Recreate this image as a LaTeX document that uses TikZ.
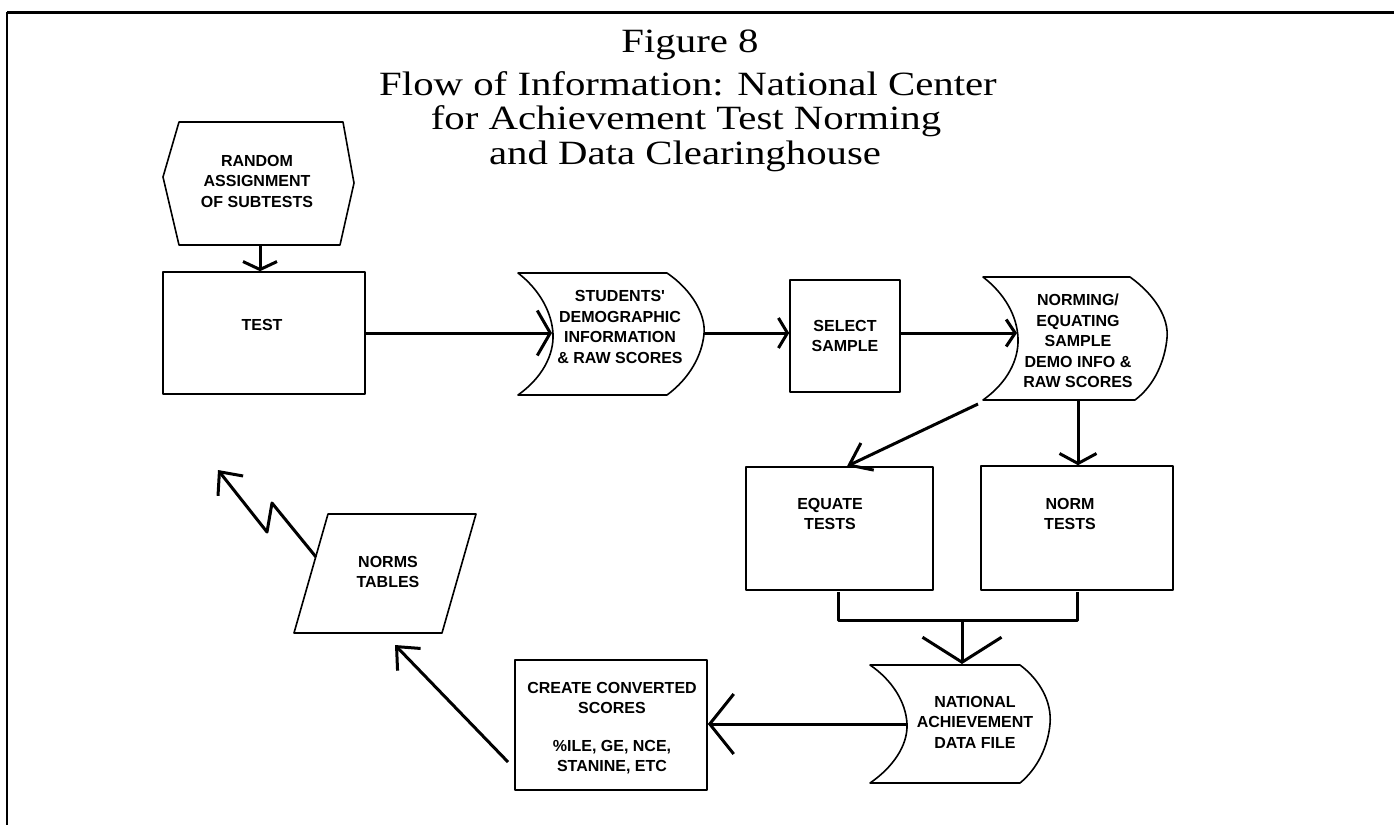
\documentclass[tikz,border=0pt]{standalone}
\usepackage{fontspec}
\setmainfont{Liberation Serif}
\newfontfamily\titlefont[FakeStretch=1.2]{Liberation Serif}
\newfontfamily\boxfont{Liberation Sans}
\usetikzlibrary{arrows.meta}
\begin{document}
\begin{tikzpicture}[x=1pt,y=-1pt,
  shapeline/.style={line width=1.6pt, line join=round},
  conn/.style={line width=3pt, line join=round},
  lbl/.style={font=\boxfont\bfseries\fontsize{16}{20.5}\selectfont, align=center, inner sep=0pt},
  ttl/.style={font=\titlefont\fontsize{34}{34}\selectfont, inner sep=0pt, anchor=base},
  box/.style={draw, shapeline, rectangle, inner sep=0pt},
  barb/.style n args={2}{-{Straight Barb[length=#1pt,width=#2pt]}},
]
\useasboundingbox (0,0) rectangle (1394,825);
% frame
\draw[line width=3pt] (7,12) -- (1394,12);
\draw[line width=2pt] (7,12) -- (7,825);

% title
\node[ttl] (t1) at (690,52) {Figure 8};
\node[ttl] (t2) at (688,95) {Flow of Information: National Center};
\node[ttl] (t3) at (686,129) {for Achievement Test Norming};
\node[ttl] (t4) at (685,164) {and Data Clearinghouse};

% random assignment (hexagon)
\draw[shapeline] (179,122) -- (343,122) -- (354,183) -- (340,245) -- (179,245) -- (163,177) -- cycle;
\node[lbl] (rand) at (257,181) {RANDOM\\ASSIGNMENT\\OF SUBTESTS};
\coordinate (randS) at (260,245);

% test box
\node[box, minimum width=202pt, minimum height=122pt] (test) at (264,333) {};
\node[lbl] (testl) at (262,325) {TEST};

% students' data (stored data shape)
\draw[shapeline] (518,273) -- (667,273) .. controls (692,290) and (706,315) .. (704,334)
  .. controls (702,355) and (690,378) .. (667,395) -- (518,395)
  .. controls (542,378) and (554,355) .. (553,334)
  .. controls (552,313) and (540,290) .. (518,273) -- cycle;
\node[lbl] (stud) at (620,327) {STUDENTS'\\DEMOGRAPHIC\\INFORMATION\\\& RAW SCORES};
\coordinate (studW) at (552,333);
\coordinate (studE) at (704,333);

% select sample
\node[box, minimum width=110pt, minimum height=112pt] (select) at (845,336) {};
\node[lbl] (selectl) at (845,336) {SELECT\\SAMPLE};

% norming/equating sample
\draw[shapeline] (983,277) -- (1130,277) .. controls (1155,295) and (1169,318) .. (1167,338)
  .. controls (1165,360) and (1155,385) .. (1135,400) -- (983,400)
  .. controls (1007,383) and (1019,360) .. (1018,338)
  .. controls (1017,316) and (1005,294) .. (983,277) -- cycle;
\node[lbl] (norming) at (1078,341) {NORMING/\\EQUATING\\SAMPLE\\DEMO INFO \&\\RAW SCORES};
\coordinate (normingW) at (1017,333);
\coordinate (normingS) at (1078,400);
\coordinate (normingSW) at (978,404);

% equate tests
\node[box, minimum width=187pt, minimum height=123pt] (equate) at (839.5,528.5) {};
\node[lbl] (equatel) at (830,514) {EQUATE\\TESTS};
\coordinate (equateS) at (838,592);

% norm tests
\node[box, minimum width=192pt, minimum height=124pt] (norm) at (1077,528) {};
\node[lbl] (norml) at (1070,514) {NORM\\TESTS};
\coordinate (normS) at (1077,592);

% national achievement data file
\draw[shapeline] (870,665) -- (1020,665) .. controls (1040,680) and (1052,702) .. (1050,724)
  .. controls (1048,746) and (1038,768) .. (1020,783) -- (870,783)
  .. controls (892,768) and (908,746) .. (907,724)
  .. controls (906,702) and (892,680) .. (870,665) -- cycle;
\node[lbl] (natl) at (975,722) {NATIONAL\\ACHIEVEMENT\\DATA FILE};
\coordinate (natlN) at (962,664);
\coordinate (natlW) at (907,724);

% create converted scores
\node[box, minimum width=192pt, minimum height=130pt] (create) at (611,725) {};
\node[lbl] (createl) at (612,728) {CREATE CONVERTED\\SCORES\\[17pt]\%ILE, GE, NCE,\\STANINE, ETC};
\coordinate (createSW) at (508,762);

% norms tables (parallelogram)
\draw[shapeline] (328,514) -- (476,514) -- (442,633) -- (294,633) -- cycle;
\node[lbl] (normsl) at (388,572) {NORMS\\TABLES};
\coordinate (normsW) at (316,557);
\coordinate (normsSE) at (395,645);
\coordinate (zz1) at (272,503);
\coordinate (zz2) at (267,532);
\coordinate (out) at (218,470);

% connectors
\draw[conn, barb={8}{34}] (randS) -- (test.north -| randS);
\draw[conn, barb={13}{45}] (test.east |- studW) -- (studW);
\draw[conn, barb={9}{30}] (studE) -- (select.west |- studE);
\draw[conn, barb={9}{27}] (select.east |- normingW) -- (normingW);
\draw[conn, barb={10}{37}] (normingS) -- (norm.north -| normingS);
\draw[conn, barb={20}{30}] (normingSW) -- (equate.north -| 847,0);
\draw[conn] (equateS) -- (838,620) -- (1077,620) -- (normS);
\draw[conn, barb={25}{79}] (962,620) -- (natlN);
\draw[conn, barb={24}{60}] (natlW) -- (create.east |- natlW);
\draw[conn, barb={18}{32}] (createSW) -- (normsSE);
\draw[conn, barb={18}{32}] (normsW) -- (zz1) -- (zz2) -- (out);
\end{tikzpicture}
\end{document}
